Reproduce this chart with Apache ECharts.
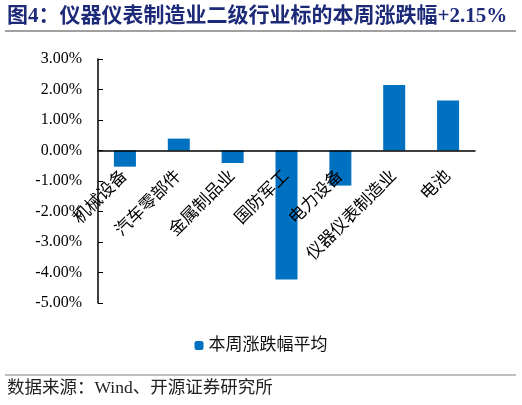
<!DOCTYPE html>
<html><head><meta charset="utf-8">
<script src="https://cdn.jsdelivr.net/npm/echarts@6/dist/echarts.min.js"></script>
<style>html,body{margin:0;padding:0;background:#fff}#c{width:522px;height:405px}</style>
</head><body><div id="c"></div>
<script>
const categories = ['机械设备','汽车零部件','金属制品业','国防军工','电力设备','仪器仪表制造业','电池'];
const weeklyChangeAvg = [-0.53, 0.39, -0.41, -4.23, -1.15, 2.15, 1.64];
const seriesName = '本周涨跌幅平均';
const titleText = '图4：仪器仪表制造业二级行业标的本周涨跌幅+2.15%';
const sourceText = '数据来源：Wind、开源证券研究所';
const yTicks = {min:-5, max:3, interval:1};

const serif = '"Liberation Serif","Noto Sans CJK SC",serif';
const gridTop = 59, gridBottom = 102, H = 405;
const gridH = H - gridTop - gridBottom;
const zeroOffset = -gridH * (0 - yTicks.min) / (yTicks.max - yTicks.min);

const chart = echarts.init(document.getElementById('c'), null, {renderer:'canvas'});
chart.setOption({
  animation:false,
  backgroundColor:'#fff',
  graphic:[
    {type:'text', left:7, top:6, style:{text:titleText, font:'bold 21px '+serif, fill:'#1c2a78'}},
    {type:'line', shape:{x1:5,y1:31,x2:516,y2:31}, style:{stroke:'#808080', lineWidth:1.5}},
    {type:'line', shape:{x1:5,y1:375,x2:516,y2:375}, style:{stroke:'#808080', lineWidth:1}},
    {type:'text', left:7, top:380, style:{text:sourceText, font:'17.5px '+serif, fill:'#222'}}
  ],
  legend:{
    data:[seriesName], left:'center', top:332, itemWidth:9, itemHeight:9, itemGap:6,
    textStyle:{fontSize:17, color:'#111', fontFamily:serif}
  },
  grid:{left:98, right:47, top:gridTop, bottom:gridBottom},
  xAxis:{
    type:'category', data:categories, z:5,
    offset: zeroOffset,
    axisLine:{onZero:false, lineStyle:{color:'#000', width:1.5}},
    axisTick:{inside:true, length:5, lineStyle:{color:'#000'}},
    axisLabel:{rotate:45, interval:0, margin:23, fontSize:17, color:'#000', fontFamily:serif}
  },
  yAxis:{
    type:'value', min:yTicks.min, max:yTicks.max, interval:yTicks.interval,
    splitLine:{show:false},
    axisLine:{show:true, lineStyle:{color:'#000', width:1.5}},
    axisTick:{show:true, inside:true, length:5, lineStyle:{color:'#000'}},
    axisLabel:{fontSize:16, color:'#000', margin:16, fontFamily:serif,
      formatter:v=>v.toFixed(2)+'%'}
  },
  series:[{
    name:seriesName, type:'bar', data:weeklyChangeAvg, barWidth:22,
    itemStyle:{color:'#0070c0'}
  }]
});
</script></body></html>
